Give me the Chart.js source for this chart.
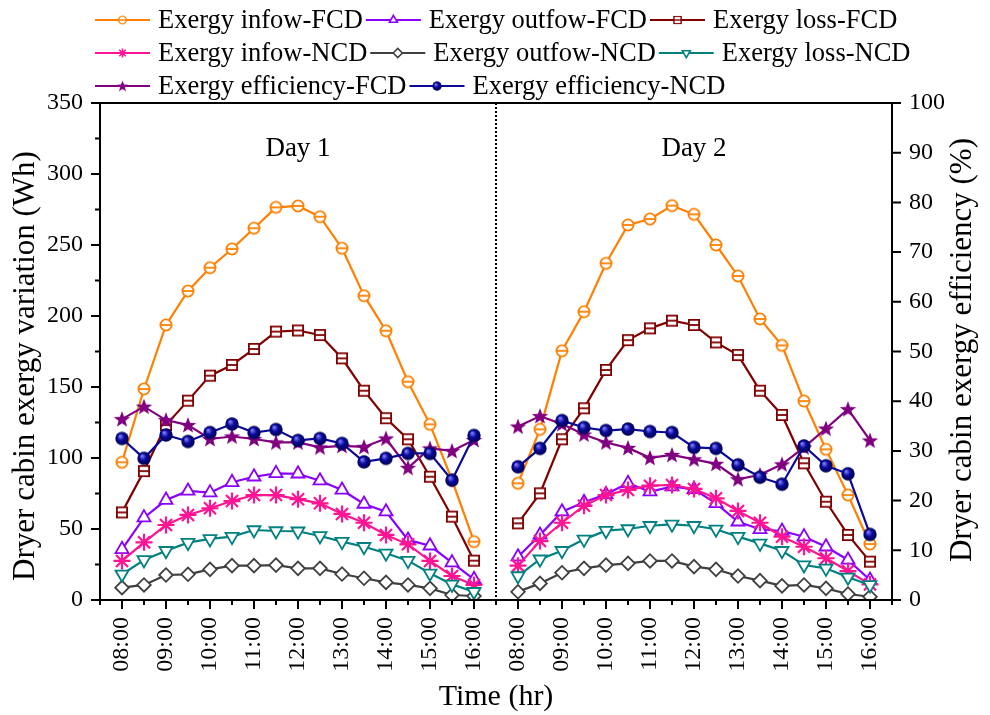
<!DOCTYPE html>
<html>
<head>
<meta charset="utf-8">
<script src="https://cdn.jsdelivr.net/npm/chart.js@4.4.1/dist/chart.umd.min.js"></script>
<style>
  html, body { margin: 0; padding: 0; background: #ffffff; }
  #wrap { width: 990px; height: 715px; }
</style>
</head>
<body>
<div id="wrap"><canvas id="c" width="990" height="715"></canvas></div>
<script>
// Half-hourly readings, 08:00 to 16:00, for the two drying days
const hourLabels = ['08:00', '09:00', '10:00', '11:00', '12:00', '13:00', '14:00', '15:00', '16:00'];
const dayTitles = ['Day 1', 'Day 2'];

// Exergy quantities (Wh), left axis
const inflowFCD1  = [97.0, 148.6, 193.7, 217.6, 234.0, 247.2, 261.8, 276.5, 277.5, 269.9, 247.7, 214.3, 189.6, 153.7, 123.7, 84.5, 41.1];
const inflowFCD2  = [82.2, 120.2, 175.5, 203.0, 237.1, 264.1, 268.3, 277.7, 271.6, 250.0, 228.2, 197.9, 179.3, 140.1, 106.1, 73.9, 39.4];
const outflowFCD1 = [35.7, 58.0, 70.4, 76.8, 75.6, 82.9, 86.8, 89.2, 88.9, 84.0, 77.5, 67.6, 62.2, 42.3, 38.2, 26.3, 14.6];
const outflowFCD2 = [30.5, 45.8, 62.2, 68.8, 74.4, 82.2, 76.3, 79.8, 78.0, 68.1, 55.1, 49.8, 48.6, 44.6, 37.5, 28.2, 14.1];
const lossFCD1    = [61.7, 90.8, 123.2, 140.4, 158.0, 165.5, 176.8, 189.0, 189.8, 186.6, 170.2, 147.4, 128.0, 113.2, 86.8, 58.7, 27.7];
const lossFCD2    = [54.0, 75.1, 113.2, 135.0, 162.0, 183.0, 191.3, 196.7, 193.7, 181.4, 172.5, 147.4, 130.3, 96.3, 69.2, 45.8, 27.0];
const inflowNCD1  = [27.5, 40.6, 52.8, 59.9, 64.6, 69.7, 73.9, 73.9, 71.0, 68.1, 60.6, 54.4, 45.8, 39.2, 27.5, 16.9, 10.6];
const inflowNCD2  = [24.2, 41.5, 54.4, 66.4, 73.9, 77.5, 80.5, 81.0, 78.2, 71.6, 62.7, 54.4, 44.6, 37.5, 29.4, 20.4, 11.0];
const outflowNCD1 = [8.7, 10.6, 17.6, 18.1, 21.6, 24.2, 24.2, 24.6, 22.3, 22.3, 18.3, 15.3, 12.4, 10.6, 8.2, 3.5, 2.8];
const outflowNCD2 = [5.8, 11.7, 19.2, 22.3, 24.6, 25.8, 27.5, 27.5, 23.5, 21.6, 16.9, 13.6, 9.9, 10.6, 8.2, 4.2, 2.3];
const lossNCD1    = [18.1, 28.2, 34.7, 40.4, 43.0, 44.6, 49.3, 48.6, 48.4, 45.1, 41.1, 37.5, 32.9, 27.7, 18.8, 11.0, 5.8];
const lossNCD2    = [16.9, 28.7, 34.7, 42.7, 48.8, 50.0, 52.3, 53.3, 52.3, 49.8, 44.6, 39.9, 34.7, 24.6, 22.3, 16.0, 10.6];

// Exergy efficiency (%), right axis
const effFCD1 = [36.4, 38.9, 36.2, 35.2, 32.4, 32.9, 32.4, 31.7, 31.7, 30.7, 31.0, 30.8, 32.5, 26.6, 30.5, 30.0, 32.2];
const effFCD2 = [34.9, 37.0, 35.4, 33.3, 31.7, 30.6, 28.6, 29.2, 28.3, 27.4, 24.3, 25.2, 27.3, 30.7, 34.5, 38.4, 32.1];
const effNCD1 = [32.5, 28.5, 33.2, 31.9, 33.7, 35.4, 33.7, 34.3, 32.1, 32.5, 31.5, 27.8, 28.5, 29.5, 29.5, 24.1, 33.1];
const effNCD2 = [26.8, 30.5, 36.1, 34.7, 34.1, 34.4, 33.9, 33.7, 30.7, 30.5, 27.2, 24.7, 23.3, 31.0, 27.0, 25.4, 13.2];

const seriesNames = [
  'Exergy infow-FCD', 'Exergy outfow-FCD', 'Exergy loss-FCD',
  'Exergy infow-NCD', 'Exergy outfow-NCD', 'Exergy loss-NCD',
  'Exergy efficiency-FCD', 'Exergy efficiency-NCD'
];

const SERIF = "'Liberation Serif', 'Times New Roman', serif";

// ---- marker images -------------------------------------------------------
function makeCanvas(size) {
  const c = document.createElement('canvas');
  c.width = size; c.height = size;
  return c;
}
function circleBar(color) {
  const c = makeCanvas(16), g = c.getContext('2d');
  g.lineWidth = 1.8; g.strokeStyle = color; g.fillStyle = '#ffffff';
  g.beginPath(); g.arc(8, 8, 5.6, 0, Math.PI * 2); g.fill(); g.stroke();
  g.beginPath(); g.moveTo(2.6, 8); g.lineTo(13.4, 8); g.stroke();
  return c;
}
function squareBar(color) {
  const c = makeCanvas(16), g = c.getContext('2d');
  g.lineWidth = 1.8; g.strokeStyle = color; g.fillStyle = '#ffffff';
  g.beginPath(); g.rect(2.9, 2.9, 10.2, 10.2); g.fill(); g.stroke();
  g.beginPath(); g.moveTo(2.9, 8); g.lineTo(13.1, 8); g.stroke();
  return c;
}
function star5(color) {
  const c = makeCanvas(20), g = c.getContext('2d');
  g.fillStyle = color;
  g.beginPath();
  for (let k = 0; k < 10; k++) {
    const r = k % 2 === 0 ? 8.6 : 3.6;
    const a = -Math.PI / 2 + k * Math.PI / 5;
    const px = 10 + r * Math.cos(a), py = 10.6 + r * Math.sin(a);
    if (k === 0) g.moveTo(px, py); else g.lineTo(px, py);
  }
  g.closePath(); g.fill();
  return c;
}
function sphere(color) {
  const c = makeCanvas(16), g = c.getContext('2d');
  const grad = g.createRadialGradient(6, 5.5, 0.5, 8, 8, 7);
  grad.addColorStop(0, '#7c7cff');
  grad.addColorStop(0.45, color);
  grad.addColorStop(1, '#00004a');
  g.fillStyle = grad;
  g.beginPath(); g.arc(8, 8, 6.7, 0, Math.PI * 2); g.fill();
  return c;
}

const COLORS = ['#ff8000', '#8a00ff', '#800000', '#ff1493', '#404040', '#008080', '#800080', '#0a0a9a'];

const styles = [
  { pointStyle: circleBar(COLORS[0]), radius: 7, rotation: 0, axis: 'y' },
  { pointStyle: 'triangle', radius: 7.5, rotation: 0, axis: 'y' },
  { pointStyle: squareBar(COLORS[2]), radius: 7, rotation: 0, axis: 'y' },
  { pointStyle: 'star', radius: 8.5, rotation: 0, axis: 'y' },
  { pointStyle: 'rectRot', radius: 6.8, rotation: 0, axis: 'y' },
  { pointStyle: 'triangle', radius: 7.5, rotation: 180, axis: 'y' },
  { pointStyle: star5(COLORS[6]), radius: 8, rotation: 0, axis: 'y1' },
  { pointStyle: sphere(COLORS[7]), radius: 7, rotation: 0, axis: 'y1' }
];

const day1 = [inflowFCD1, outflowFCD1, lossFCD1, inflowNCD1, outflowNCD1, lossNCD1, effFCD1, effNCD1];
const day2 = [inflowFCD2, outflowFCD2, lossFCD2, inflowNCD2, outflowNCD2, lossNCD2, effFCD2, effNCD2];

// Day 1 sits on positions 0..16, Day 2 on 18..34 (half-hour steps); 17 is the break
const DAY2_START = 18;
function toPoints(a, b) {
  const pts = a.map((v, i) => ({ x: i, y: v }));
  pts.push({ x: DAY2_START - 1, y: null });
  b.forEach((v, i) => pts.push({ x: DAY2_START + i, y: v }));
  return pts;
}

const datasets = seriesNames.map((name, i) => ({
  label: name,
  data: toPoints(day1[i], day2[i]),
  yAxisID: styles[i].axis,
  borderColor: COLORS[i],
  backgroundColor: COLORS[i],
  borderWidth: 2.2,
  pointStyle: styles[i].pointStyle,
  pointRadius: styles[i].radius,
  pointRotation: styles[i].rotation,
  pointBorderColor: COLORS[i],
  pointBackgroundColor: (i === 3 || i === 6 || i === 7) ? COLORS[i] : '#ffffff',
  pointBorderWidth: i === 3 ? 2.2 : 1.8,
  tension: 0,
  spanGaps: false,
  order: seriesNames.length - i
}));

function hourLabel(value) {
  const v = Math.round(value);
  if (v >= 0 && v <= 16 && v % 2 === 0) return hourLabels[v / 2];
  if (v >= DAY2_START && v <= DAY2_START + 16 && (v - DAY2_START) % 2 === 0) return hourLabels[(v - DAY2_START) / 2];
  return '';
}

// ---- decorations: frame, tick marks, day divider, titles, legend --------
const decor = {
  id: 'decor',
  afterDraw(chart) {
    const ctx = chart.ctx;
    const { left, right, top, bottom } = chart.chartArea;
    const xs = chart.scales.x, ys = chart.scales.y, y1 = chart.scales.y1;
    ctx.save();

    // divider between the two days
    ctx.strokeStyle = '#000'; ctx.lineWidth = 2; ctx.setLineDash([2, 2]);
    const xd = Math.round(xs.getPixelForValue(DAY2_START - 1));
    ctx.beginPath(); ctx.moveTo(xd, top); ctx.lineTo(xd, bottom); ctx.stroke();
    ctx.setLineDash([]);

    // tick marks
    ctx.lineWidth = 2; ctx.strokeStyle = '#000';
    ctx.beginPath();
    xs.ticks.forEach(t => {
      const px = xs.getPixelForValue(t.value);
      const len = hourLabel(t.value) ? 9 : 5;
      ctx.moveTo(px, bottom); ctx.lineTo(px, bottom + len);
    });
    ys.ticks.forEach(t => {
      const py = ys.getPixelForValue(t.value);
      const len = t.value % 50 === 0 ? 9 : 5;
      ctx.moveTo(left, py); ctx.lineTo(left - len, py);
    });
    y1.ticks.forEach(t => {
      const py = y1.getPixelForValue(t.value);
      const len = t.value % 10 === 0 ? 9 : 5;
      ctx.moveTo(right, py); ctx.lineTo(right + len, py);
    });
    ctx.stroke();

    // frame
    ctx.lineWidth = 2;
    ctx.strokeRect(left, top, right - left, bottom - top);

    // day captions
    ctx.fillStyle = '#000';
    ctx.font = '27px ' + SERIF;
    ctx.textAlign = 'center'; ctx.textBaseline = 'middle';
    ctx.fillText(dayTitles[0], xs.getPixelForValue(8), ys.getPixelForValue(318));
    ctx.fillText(dayTitles[1], xs.getPixelForValue(DAY2_START + 8), ys.getPixelForValue(318));

    // vertical axis titles (both read bottom to top)
    ctx.font = '31px ' + SERIF;
    ctx.save(); ctx.translate(26, 366); ctx.rotate(-Math.PI / 2);
    ctx.fillText('Dryer cabin exergy variation (Wh)', 0, 0); ctx.restore();
    ctx.save(); ctx.translate(963, 350); ctx.rotate(-Math.PI / 2);
    ctx.fillText('Dryer cabin exergy efficiency (%)', 0, 0); ctx.restore();

    // legend: three rows of line-and-marker samples
    const rows = [[0, 1, 2], [3, 4, 5], [6, 7]];
    const rowY = [20, 53, 86];
    ctx.font = '26.5px ' + SERIF;
    ctx.textAlign = 'left';
    rows.forEach((row, r) => {
      let x = 95;
      const y = rowY[r];
      row.forEach(i => {
        const ds = chart.data.datasets[i];
        ctx.strokeStyle = ds.borderColor; ctx.lineWidth = 2.2;
        ctx.beginPath(); ctx.moveTo(x, y); ctx.lineTo(x + 55, y); ctx.stroke();
        const st = ds.pointStyle;
        if (typeof st === 'object') {
          const s = 0.7;
          ctx.drawImage(st, x + 27.5 - st.width * s / 2, y - st.height * s / 2, st.width * s, st.height * s);
        } else {
          ctx.fillStyle = ds.pointBackgroundColor;
          ctx.strokeStyle = ds.pointBorderColor;
          ctx.lineWidth = 1.6;
          Chart.helpers.drawPoint(ctx, { pointStyle: st, radius: 4.6, rotation: ds.pointRotation, borderWidth: 1.6 }, x + 27.5, y);
        }
        ctx.fillStyle = '#000';
        ctx.fillText(ds.label, x + 63, y + 1);
        x += 63 + ctx.measureText(ds.label).width + 3;
      });
    });
    ctx.restore();
  }
};

const tickFont = { family: SERIF, size: 24 };

new Chart(document.getElementById('c'), {
  type: 'line',
  data: { datasets },
  options: {
    responsive: false,
    animation: false,
    events: [],
    layout: { padding: { top: 103, left: 0, right: 0, bottom: 0 } },
    plugins: { legend: { display: false }, tooltip: { enabled: false } },
    scales: {
      x: {
        type: 'linear', min: -1, max: 35,
        afterFit: s => { s.height = 115; },
        ticks: {
          stepSize: 1, autoSkip: false, minRotation: 90, maxRotation: 90,
          padding: 9, color: '#000', font: tickFont,
          callback: v => hourLabel(v)
        },
        grid: { display: true, drawOnChartArea: false, drawTicks: true, tickLength: 8, color: 'rgba(0,0,0,0)' },
        border: { display: false },
        title: { display: true, text: 'Time (hr)', color: '#000', font: { family: SERIF, size: 30 }, padding: { top: 0, bottom: 0 } }
      },
      y: {
        position: 'left', min: 0, max: 350,
        afterFit: s => { s.width = 100; },
        ticks: {
          stepSize: 25, padding: 9, color: '#000', font: tickFont,
          callback: v => (v % 50 === 0 ? String(v) : '')
        },
        grid: { display: true, drawOnChartArea: false, drawTicks: true, tickLength: 8, color: 'rgba(0,0,0,0)' },
        border: { display: false }
      },
      y1: {
        position: 'right', min: 0, max: 100,
        afterFit: s => { s.width = 98; },
        ticks: {
          stepSize: 5, padding: 9, color: '#000', font: tickFont,
          callback: v => (v % 10 === 0 ? String(v) : '')
        },
        grid: { display: true, drawOnChartArea: false, drawTicks: true, tickLength: 8, color: 'rgba(0,0,0,0)' },
        border: { display: false }
      }
    }
  },
  plugins: [decor]
});
</script>
</body>
</html>
